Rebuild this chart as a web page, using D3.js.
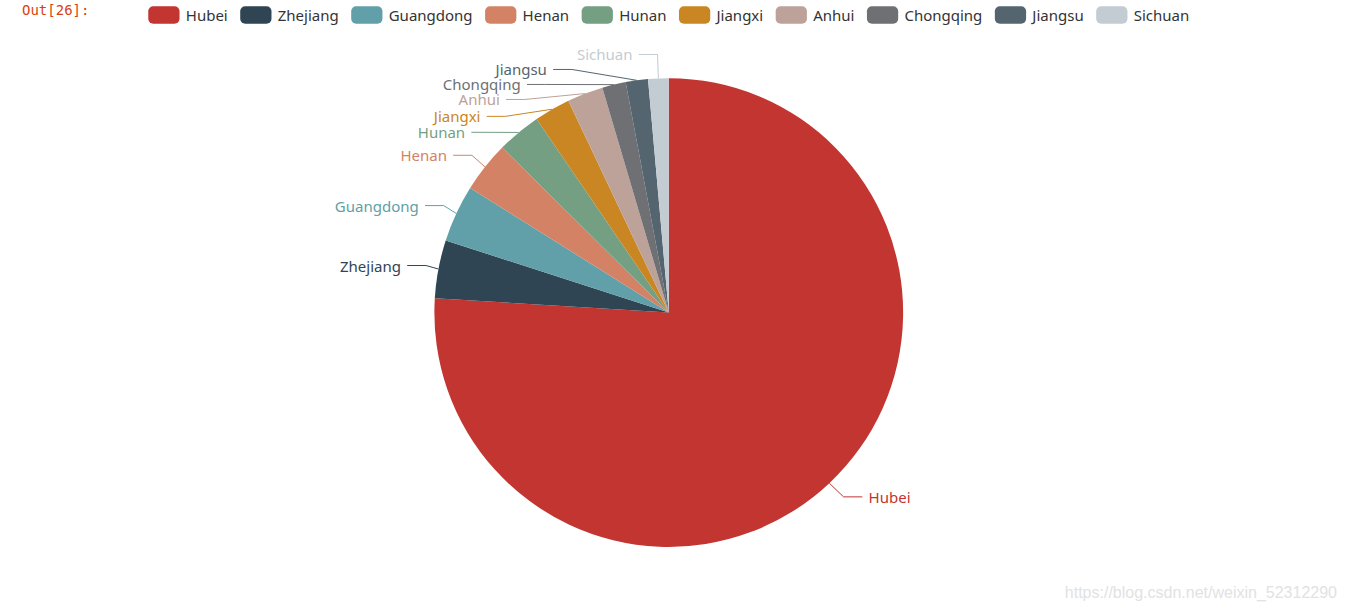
<!DOCTYPE html>
<html>
<head>
<meta charset="utf-8">
<title>Pie</title>
<script src="https://cdn.jsdelivr.net/npm/d3@7"></script>
<style>
    body { margin: 0; background: #fff; }
    #pie-area { width: 1346px; height: 612px; overflow: hidden; }
</style>
</head>
<body>
<div id="pie-area"></div>
<script>
// data
const provinces = ["Hubei", "Zhejiang", "Guangdong", "Henan", "Hunan", "Jiangxi", "Anhui", "Chongqing", "Jiangsu", "Sichuan"];
const cases = [13522, 712, 701, 625, 542, 443, 440, 290, 273, 251];
const palette = ["#c23531", "#2f4554", "#61a0a8", "#d48265", "#749f83", "#ca8622", "#bda29a", "#6e7074", "#546570", "#c4ccd3"];

class PieVis {

    constructor(parentElement, names, values, colors) {
        this.parentElement = parentElement;
        this.names = names;
        this.values = values;
        this.colors = colors;

        this.initVis();
    }

    initVis() {
        let vis = this;

        vis.width = 1346;
        vis.height = 612;

        // the chart was rendered at 1070x500 and zoomed by 1.25
        vis.s = 1.25;
        vis.cx = 1070 * vis.s / 2;
        vis.cy = 500 * vis.s / 2;
        vis.radius = 0.75 * 500 * vis.s / 2;
        vis.font = "'Noto Sans', 'Open Sans', sans-serif";

        vis.svg = d3.select("#" + vis.parentElement).append("svg")
            .attr("width", vis.width)
            .attr("height", vis.height);

        // notebook prompt
        vis.svg.append("text")
            .attr("x", 22)
            .attr("y", 15)
            .attr("font-family", "'DejaVu Sans Mono', monospace")
            .attr("font-size", 14)
            .attr("fill", "#d84315")
            .text("Out[26]:");

        vis.sliceGroup = vis.svg.append("g")
            .attr("transform", "translate(" + vis.cx + "," + vis.cy + ")");
        vis.labelGroup = vis.svg.append("g");
        vis.legendGroup = vis.svg.append("g");

        // watermark
        vis.svg.append("text")
            .attr("x", 1337)
            .attr("y", 598)
            .attr("text-anchor", "end")
            .attr("font-family", "'Liberation Sans', Arial, sans-serif")
            .attr("font-size", 16)
            .attr("fill", "#e2e2e2")
            .text("https://blog.csdn.net/weixin_52312290");

        vis.color = d3.scaleOrdinal()
            .domain(vis.names)
            .range(vis.colors);

        vis.pie = d3.pie()
            .sort(null)
            .value(d => d.value);

        vis.arc = d3.arc()
            .innerRadius(0)
            .outerRadius(vis.radius);

        vis.wrangleData();
    }

    wrangleData() {
        let vis = this;
        vis.displayData = vis.names.map((n, i) => ({name: n, value: vis.values[i]}));
        vis.updateVis();
    }

    updateVis() {
        let vis = this;
        let arcs = vis.pie(vis.displayData);

        // slices
        vis.sliceGroup.selectAll(".slice")
            .data(arcs)
            .join("path")
            .attr("class", "slice")
            .attr("d", vis.arc)
            .attr("fill", d => vis.color(d.data.name));

        // outside labels with leader lines
        let labels = vis.layoutLabels(arcs);

        vis.labelGroup.selectAll(".label-line")
            .data(labels)
            .join("polyline")
            .attr("class", "label-line")
            .attr("points", d => d.points.map(p => p.join(",")).join(" "))
            .attr("fill", "none")
            .attr("stroke", d => vis.color(d.name))
            .attr("stroke-width", 1);

        vis.labelGroup.selectAll(".label-text")
            .data(labels)
            .join("text")
            .attr("class", "label-text")
            .attr("x", d => d.x)
            .attr("y", d => d.y)
            .attr("text-anchor", d => d.dir < 0 ? "end" : "start")
            .attr("dominant-baseline", "central")
            .attr("font-family", vis.font)
            .attr("font-size", 12 * vis.s)
            .attr("fill", d => vis.color(d.name))
            .text(d => d.name);

        vis.drawLegend();
    }

    drawLegend() {
        let vis = this;
        let iconW = 25 * vis.s, iconH = 14 * vis.s, textGap = 5 * vis.s, itemGap = 10 * vis.s;
        let top = 5 * vis.s;

        let items = vis.legendGroup.selectAll(".legend-item")
            .data(vis.names)
            .join("g")
            .attr("class", "legend-item");

        items.append("rect")
            .attr("width", iconW)
            .attr("height", iconH)
            .attr("rx", 5)
            .attr("ry", 5)
            .attr("fill", d => vis.color(d));

        items.append("text")
            .attr("x", iconW + textGap)
            .attr("y", iconH / 2)
            .attr("dominant-baseline", "central")
            .attr("font-family", vis.font)
            .attr("font-size", 12 * vis.s)
            .attr("fill", "#333")
            .text(d => d);

        // measure and center the row
        let widths = [];
        items.select("text").each(function () {
            widths.push(iconW + textGap + this.getComputedTextLength());
        });
        let total = d3.sum(widths) + itemGap * (widths.length - 1);
        let x = vis.cx - total / 2;
        items.attr("transform", (d, i) => {
            let t = "translate(" + x + "," + top + ")";
            x += widths[i] + itemGap;
            return t;
        });
    }

    layoutLabels(arcs) {
        let vis = this;
        let len = 15 * vis.s, len2 = 15 * vis.s, gap = 5 * vis.s, h = 12 * vis.s;

        let labels = arcs.map(d => {
            let mid = (d.startAngle + d.endAngle) / 2;
            let dx = Math.sin(mid), dy = -Math.cos(mid);
            let x1 = vis.cx + vis.radius * dx, y1 = vis.cy + vis.radius * dy;
            let x2 = vis.cx + (vis.radius + len) * dx, y2 = vis.cy + (vis.radius + len) * dy;
            let dir = dx < 0 ? -1 : 1;
            let x3 = x2 + dir * len2;
            return {
                name: d.data.name,
                dir: dir,
                x: x3 + dir * gap,
                y: y2,
                height: h,
                points: [[x1, y1], [x2, y2], [x3, y2]]
            };
        });

        vis.adjustSide(labels.filter(l => l.x >= vis.cx), 1, len, len2);
        vis.adjustSide(labels.filter(l => l.x < vis.cx), -1, len, len2);

        labels.forEach(l => {
            let dist = l.points[1][0] - l.points[2][0];
            l.points[2][0] = l.x - l.dir * gap;
            l.points[1][0] = l.points[2][0] + dist;
            l.points[1][1] = l.points[2][1] = l.y;
        });
        return labels;
    }

    // push overlapping labels apart on one side, then slide them along the circle
    adjustSide(list, dir, len, len2) {
        let vis = this;
        let top = 0, bottom = 500 * vis.s;
        list.sort((a, b) => a.y - b.y);

        function shiftUp(end, delta) {
            for (let j = end; j >= 0; j--) {
                if (list[j].y - delta < top) break;
                list[j].y -= delta;
                if (j > 0 && list[j].y > list[j - 1].y + list[j - 1].height) break;
            }
        }

        function shiftDown(start, end, delta) {
            for (let j = start; j < end; j++) {
                if (list[j].y + delta > bottom) break;
                list[j].y += delta;
                if (j > start && j + 1 < end && list[j + 1].y > list[j].y + list[j].height) {
                    shiftUp(j, delta / 2);
                    return;
                }
            }
            shiftUp(end - 1, delta / 2);
        }

        let lastY = 0;
        for (let i = 0; i < list.length; i++) {
            let delta = list[i].y - lastY;
            if (delta < 0) shiftDown(i, list.length, -delta);
            lastY = list[i].y + list[i].height;
        }
        if (bottom - lastY < 0) shiftUp(list.length - 1, lastY - bottom);

        let rLine = vis.radius + len, rText = rLine + len2;
        function changeX(items, isDown) {
            let last = isDown ? Number.MAX_VALUE : 0;
            items.forEach(l => {
                let deltaY = Math.abs(l.y - vis.cy);
                let deltaX = deltaY < rLine
                    ? Math.sqrt(rText * rText - deltaY * deltaY)
                    : Math.abs(l.x - vis.cx);
                if (isDown && deltaX >= last) deltaX = last - 10;
                if (!isDown && deltaX <= last) deltaX = last + 10;
                l.x = vis.cx + deltaX * dir;
                last = deltaX;
            });
        }
        changeX(list.filter(l => l.y < vis.cy), false);
        changeX(list.filter(l => l.y >= vis.cy), true);
    }
}

let pieVis = new PieVis("pie-area", provinces, cases, palette);
</script>
</body>
</html>
